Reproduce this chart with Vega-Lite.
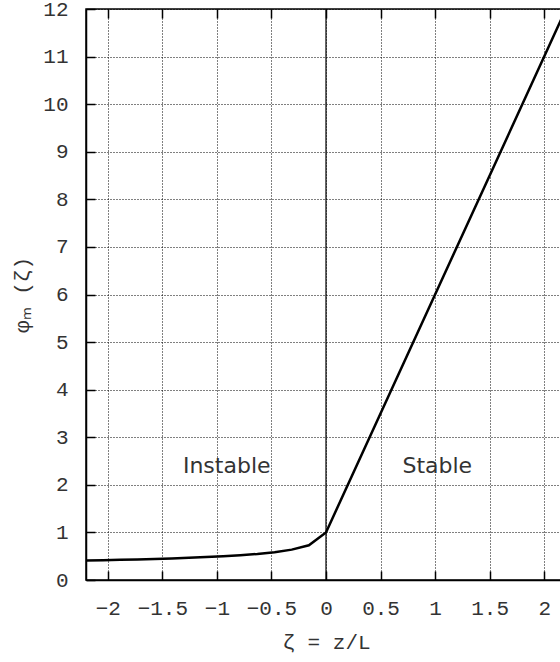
{
  "$schema": "https://vega.github.io/schema/vega-lite/v6.json",
  "width": 480,
  "height": 571,
  "autosize": {"type": "none"},
  "padding": {"left": 86, "top": 9, "right": 0, "bottom": 82},
  "background": "white",
  "config": {
    "view": {"stroke": "black", "strokeWidth": 1.5},
    "axis": {
      "labelFont": "Liberation Mono",
      "labelFontSize": 21,
      "labelColor": "#333",
      "titleFont": "Liberation Mono",
      "titleFontSize": 21,
      "titleFontWeight": "normal",
      "titleColor": "#333",
      "gridColor": "black",
      "gridDash": [1, 2],
      "gridOpacity": 1,
      "gridWidth": 1,
      "tickColor": "black",
      "tickWidth": 1.5,
      "domainColor": "black",
      "domainWidth": 1.5
    }
  },
  "datasets": {
    "curve": [
      {"z": -2.2, "phi": 0.4077},
      {"z": -2.043, "phi": 0.4151},
      {"z": -1.886, "phi": 0.4232},
      {"z": -1.729, "phi": 0.4322},
      {"z": -1.571, "phi": 0.4422},
      {"z": -1.414, "phi": 0.4535},
      {"z": -1.257, "phi": 0.4665},
      {"z": -1.1, "phi": 0.4815},
      {"z": -0.943, "phi": 0.4993},
      {"z": -0.786, "phi": 0.521},
      {"z": -0.629, "phi": 0.5483},
      {"z": -0.471, "phi": 0.5849},
      {"z": -0.314, "phi": 0.6382},
      {"z": -0.157, "phi": 0.7303},
      {"z": 0, "phi": 1},
      {"z": 2.2, "phi": 12}
    ],
    "labels": [
      {"z": -0.91, "phi": 2.4, "text": "Instable"},
      {"z": 1.02, "phi": 2.4, "text": "Stable"}
    ],
    "zero": [{"z": 0}]
  },
  "resolve": {"axis": {"x": "independent", "y": "independent"}},
  "layer": [
    {
      "data": {"name": "zero"},
      "mark": {"type": "rule", "color": "black", "strokeWidth": 1.2},
      "encoding": {
        "x": {
          "field": "z", "type": "quantitative",
          "scale": {"domain": [-2.2, 2.2], "nice": false, "zero": false},
          "axis": {"orient": "top", "labels": false, "grid": false, "domain": false, "tickSize": -9, "values": [-2, -1.5, -1, -0.5, 0, 0.5, 1, 1.5, 2], "title": null}
        }
      }
    },
    {
      "data": {"name": "curve"},
      "mark": {"type": "line", "color": "black", "strokeWidth": 2.5, "clip": true},
      "encoding": {
        "x": {
          "field": "z", "type": "quantitative",
          "scale": {"domain": [-2.2, 2.2], "nice": false, "zero": false},
          "axis": {"orient": "bottom", "values": [-2, -1.5, -1, -0.5, 0, 0.5, 1, 1.5, 2], "format": "~g", "grid": true, "tickSize": -9, "labelPadding": 26, "title": "ζ = z/L", "titlePadding": 13}
        },
        "y": {
          "field": "phi", "type": "quantitative",
          "scale": {"domain": [0, 12], "nice": false},
          "axis": {"values": [0,1,2,3,4,5,6,7,8,9,10,11,12], "grid": true, "tickSize": -9, "labelPadding": 27, "title": "φₘ (ζ)", "titlePadding": 10}
        }
      }
    },
    {
      "data": {"name": "labels"},
      "mark": {"type": "text", "font": "DejaVu Sans", "fontSize": 22, "color": "#333", "align": "center", "baseline": "middle"},
      "encoding": {
        "x": {"field": "z", "type": "quantitative", "scale": {"domain": [-2.2, 2.2], "nice": false, "zero": false}, "axis": null},
        "y": {"field": "phi", "type": "quantitative", "scale": {"domain": [0, 12], "nice": false}, "axis": null},
        "text": {"field": "text"}
      }
    }
  ]
}
